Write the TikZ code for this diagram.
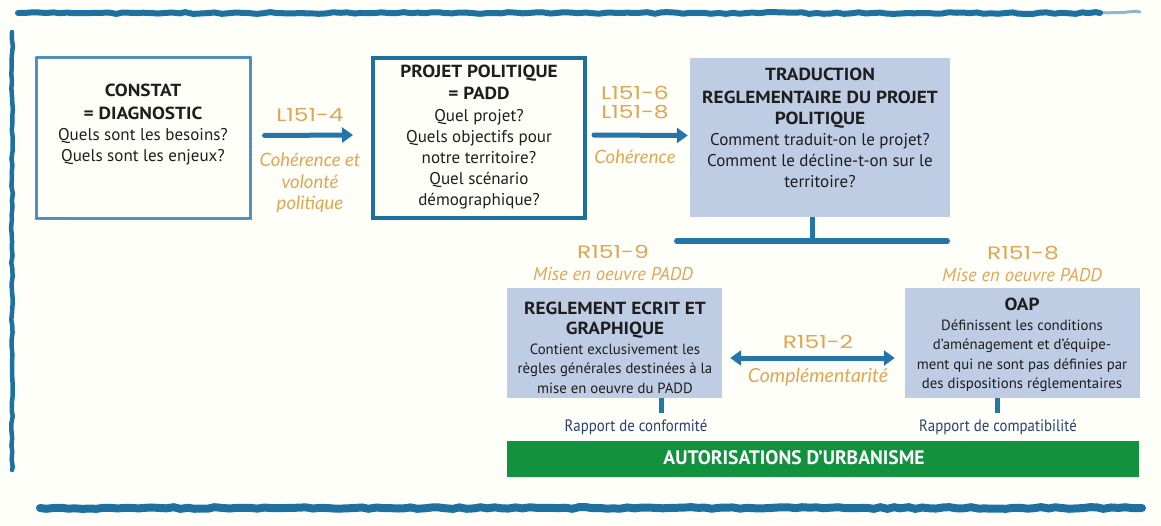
\documentclass[tikz,border=0pt]{standalone}
\usepackage{fontspec}
\setmainfont{PT Sans}
\newfontfamily\condfont[FakeStretch=0.9]{PT Sans}
\newfontfamily\titlefont[FakeStretch=1.1]{PT Sans}
\newfontfamily\codefont[FakeStretch=1.3]{Poppins}
\newfontfamily\handfont{Lato}
\usetikzlibrary{arrows.meta, decorations.pathmorphing}

\begin{document}
\begin{tikzpicture}[x=1pt, y=-1pt, line cap=round,
    every node/.style={inner sep=0pt, text=textdark},
    brush/.style={draw=frameblue, decorate, decoration={random steps, segment length=7pt, amplitude=0.9pt}},
    dotbox/.style={draw=frameblue!80, line width=3pt, dash pattern=on 0.8pt off 1.2pt},
    linebox/.style={draw=frameblue, line width=4pt},
    fillbox/.style={fill=boxfill},
    body/.style={align=center, font=\fontsize{17}{21}\selectfont},
    small body/.style={align=center, font=\fontsize{14.8}{19.5}\selectfont},
    code/.style={text=codeorange, font=\codefont\fontsize{18}{19}\selectfont, align=center},
    hand/.style={text=codeorange, font=\handfont\itshape\fontsize{18.5}{21.5}\selectfont, align=center},
    mise/.style={text=codeorange, font=\itshape\fontsize{18.5}{19}\selectfont},
    rapport/.style={text=navy, font=\condfont\fontsize{16.5}{18}\selectfont},
    flow/.style={draw=arrowblue, line width=5pt, -{Triangle[length=11pt, width=15pt]}},
    stem/.style={draw=arrowblue, line width=5pt, line cap=butt}]

    % --- Definitions ---
    \definecolor{frameblue}{RGB}{30, 112, 160}
    \definecolor{arrowblue}{RGB}{36, 118, 168}
    \definecolor{boxfill}{RGB}{190, 205, 228}
    \definecolor{codeorange}{RGB}{222, 166, 84}
    \definecolor{navy}{RGB}{42, 64, 112}
    \definecolor{urbgreen}{RGB}{18, 146, 62}
    \definecolor{textdark}{RGB}{30, 30, 30}

    \newcommand{\ttl}[1]{{\titlefont\bfseries\fontsize{17.5}{22}\selectfont #1}}

    \fill[white!98!yellow] (0,0) rectangle (1161,525);
    \useasboundingbox (0,0) rectangle (1161,525);

    % --- Frame ---
    \draw[brush, line width=6pt] (18,13) -- (1100,13);
    \draw[brush, line width=3pt, draw opacity=0.5] (1100,12) -- (1140,12);
    \draw[brush, line width=8pt] (40,508) -- (1142,508);
    \draw[brush, line width=4.5pt] (12,32) -- (12,470);

    % --- Top row ---
    \node[dotbox, minimum width=214, minimum height=161] (constat) at (143,137.5) {};
    \node[body] (constat-txt) at (143,124.5)
        {\ttl{CONSTAT}\\[2pt] \ttl{= DIAGNOSTIC}\\ Quels sont les besoins?\\ Quels sont les enjeux?};

    \node[linebox, minimum width=212, minimum height=160] (projet) at (479,138) {};
    \node[body] (projet-txt) at (479,137)
        {\ttl{PROJET POLITIQUE}\\[1pt] \ttl{= PADD}\\[1pt] Quel projet?\\ Quels objectifs pour\\ notre territoire?\\ Quel sc\'enario\\ d\'emographique?};

    \node[fillbox, minimum width=260, minimum height=159] (traduction) at (820,137.5) {};
    \node[body] (traduction-txt) at (820,128)
        {\ttl{TRADUCTION}\\[2pt] \ttl{REGLEMENTAIRE DU PROJET}\\ \ttl{POLITIQUE}\\ Comment traduit-on le projet?\\ Comment le d\'ecline-t-on sur le\\ territoire?};

    % arrows between the top boxes
    \draw[flow] ([xshift=13pt, yshift=2pt]constat.east) -- ([xshift=-18pt, yshift=3pt]projet.west);
    \node[code] (l1514) at (310,115) {L151-4};
    \node[hand] (coherence1) at (310,183) {Coh\'erence et\\ volont\'e\\ politique};

    \draw[flow] ([xshift=7pt, yshift=3pt]projet.east) -- ([xshift=-2pt, yshift=2pt]traduction.west);
    \node[code] (l1516) at (635,102.5) {L151-6\\ L151-8};
    \node[hand] (coherence2) at (635,157) {Coh\'erence};

    % --- Fork ---
    \coordinate (fork) at (812,241);
    \coordinate (forkL) at (677,241);
    \coordinate (forkR) at (947,241);
    \draw[stem] (traduction.south -| fork) -- (fork);
    \draw[arrowblue, line width=6pt] (forkL) -- (forkR);

    % --- Bottom row ---
    \node[code] (r1519) at (613,252) {R151-9};
    \node[mise] (mise1) at (613,274) {Mise en oeuvre PADD};
    \node[fillbox, minimum width=215, minimum height=110] (reglement) at (614.5,343) {};
    \node[small body] (reglement-txt) at (615,347.5)
        {\ttl{REGLEMENT ECRIT ET}\\[1pt] \ttl{GRAPHIQUE}\\ Contient exclusivement les\\ r\`egles g\'en\'erales destin\'ees \`a la\\ mise en oeuvre du PADD};

    \node[code] (r1518) at (1023,253) {R151-8};
    \node[mise] (mise2) at (1022,275) {Mise en oeuvre PADD};
    \node[fillbox, minimum width=235, minimum height=110] (oap) at (1022.5,343) {};
    \node[small body] (oap-txt) at (1022,345)
        {\ttl{OAP}\\ D\'efinissent les conditions\\ d'am\'enagement et d'\'equipe-\\ ment qui ne sont pas d\'efinies par\\ des dispositions r\'eglementaires};

    \draw[flow, {Triangle[length=11pt, width=15pt]}-{Triangle[length=11pt, width=15pt]}]
        ([xshift=8pt, yshift=-15pt]reglement.east) -- ([xshift=-10pt, yshift=-15pt]oap.west);
    \node[code] (r1512) at (818,342) {R151-2};
    \node[hand, font=\handfont\itshape\fontsize{19.5}{21.5}\selectfont] (complement) at (818,377) {Compl\'ementarit\'e};

    % --- Rapports ---
    \node[rapport] (conformite) at (636,427) {Rapport de conformit\'e};
    \node[rapport] (compatibilite) at (998,427) {Rapport de compatibilit\'e};
    \coordinate (confStem) at (661,413);
    \coordinate (compStem) at (997,413);
    \draw[stem] (reglement.south -| confStem) -- (confStem);
    \draw[stem] (oap.south -| compStem) -- (compStem);

    % --- Autorisations ---
    \node[fill=urbgreen, minimum width=632, minimum height=36] (autorisations) at (823,459) {};
    \node[text=white, font=\bfseries\fontsize{19.5}{20}\selectfont] (autorisations-txt) at (794,458)
        {AUTORISATIONS D'URBANISME};

\end{tikzpicture}
\end{document}
